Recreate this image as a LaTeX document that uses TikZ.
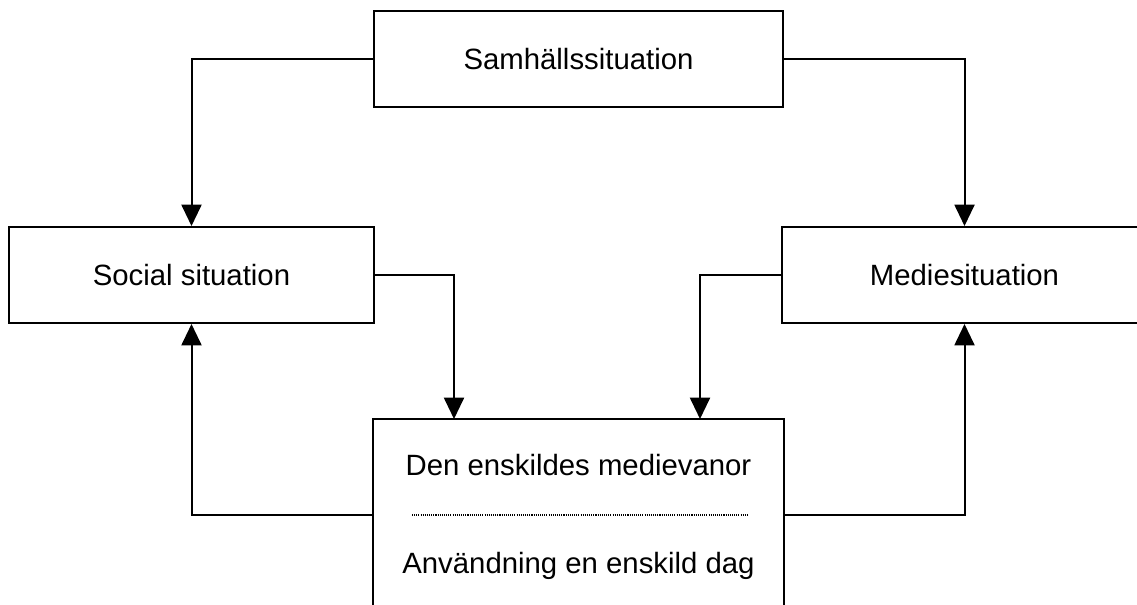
\documentclass[tikz,border=0pt]{standalone}
\usepackage{fontspec}
\setmainfont{Liberation Sans}
\usetikzlibrary{arrows.meta}
\tikzset{
  box/.style={draw, line width=1.5pt, inner sep=0pt, font=\fontsize{22}{26}\selectfont},
  lbl/.style={inner sep=0pt, font=\fontsize{22}{26}\selectfont},
  conn/.style={line width=1.5pt, -{Triangle[width=15pt,length=16pt]}},
  plain/.style={line width=1.5pt},
  sep/.style={line width=0.8pt, dash pattern=on 0.8pt off 0.8pt}
}
\begin{document}
\begin{tikzpicture}[x=0.75pt,y=-0.75pt]
\clip (0,0) rectangle (1137,604);
\fill[white] (0,0) rectangle (1137,604);
\node[box, minimum width=409*0.75pt, minimum height=96*0.75pt] (top) at (578.5,59) {Samh\"allssituation};
\node[box, minimum width=365*0.75pt, minimum height=96*0.75pt] (soc) at (191.5,275) {Social situation};
\node[box, minimum width=365*0.75pt, minimum height=96*0.75pt] (med) at (964.5,275) {Mediesituation};
\node[box, minimum width=411*0.75pt, minimum height=220*0.75pt] (bot) at (578.5,529) {};
\node[lbl, anchor=base] (t1) at (578.5,475) {Den enskildes medievanor};
\node[lbl, anchor=base] (t2) at (578.5,573) {Anv\"andning en enskild dag};
\coordinate (dl) at (412,515);
\coordinate (dr) at (747,515);
\draw[sep] (dl) -- (dr);
\coordinate (inl) at (454,419);
\coordinate (inr) at (700,419);
\draw[conn] (top.west) -| (soc.north);
\draw[conn] (top.east) -| (med.north);
\draw[conn] (soc.east) -| (inl);
\draw[conn] (med.west) -| (inr);
\draw[conn] (bot.west |- dl) -| (soc.south);
\draw[conn] (bot.east |- dr) -| (med.south);
\end{tikzpicture}
\end{document}
